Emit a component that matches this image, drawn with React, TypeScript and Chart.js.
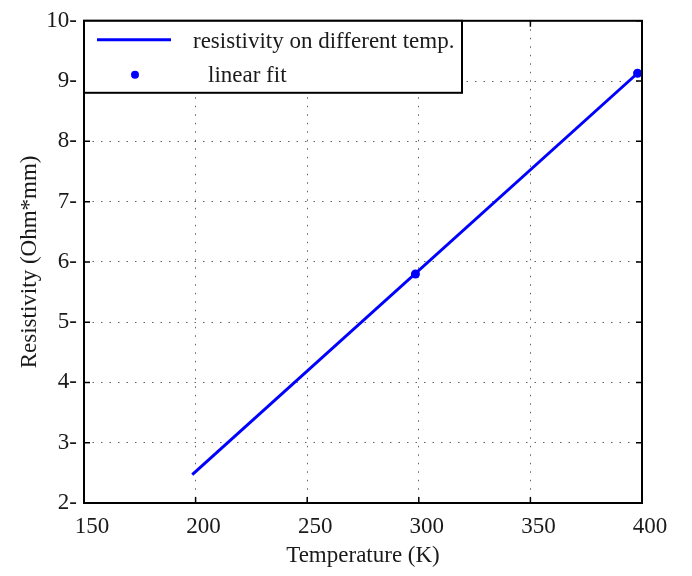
import React, { useEffect, useRef } from "react";
import { Chart, registerables } from "chart.js";
Chart.register(...registerables);

const lineTemps = [198.5, 398];
const lineResistivity = [2.47, 9.13];
const fitTemps = [298.5, 398];
const fitResistivity = [5.8, 9.13];
const xTickValues = [150, 200, 250, 300, 350, 400];
const yTickValues = [2, 3, 4, 5, 6, 7, 8, 9, 10];
const seriesLabels = ["resistivity on different temp.", "linear fit"];
const xTitle = "Temperature (K)";
const yTitle = "Resistivity (Ohm*mm)";

const FONT = '"Liberation Serif", "Times New Roman", serif';
const BLUE = "#0000ff";
const TEXT = "#1a1a1a";
const FS = 23;

const framePlugin = {
  id: "frame",
  afterDatasetsDraw(chart: any) {
    const { ctx, chartArea: a, scales } = chart;
    ctx.save();
    ctx.strokeStyle = "#000";
    ctx.lineWidth = 1.5;
    const tl = 6;
    ctx.beginPath();
    for (const v of xTickValues) {
      const x = scales.x.getPixelForValue(v);
      ctx.moveTo(x, a.bottom);
      ctx.lineTo(x, a.bottom - tl);
      ctx.moveTo(x, a.top);
      ctx.lineTo(x, a.top + tl);
    }
    for (const v of yTickValues) {
      const y = scales.y.getPixelForValue(v);
      ctx.moveTo(a.left, y);
      ctx.lineTo(a.left + tl, y);
      ctx.moveTo(a.right, y);
      ctx.lineTo(a.right - tl, y);
    }
    ctx.stroke();
    ctx.lineWidth = 2;
    ctx.strokeRect(a.left, a.top, a.right - a.left, a.bottom - a.top);
    ctx.restore();
  },
};

const legendPlugin = {
  id: "boxLegend",
  afterDraw(chart: any) {
    const { ctx, chartArea: a } = chart;
    const x0 = a.left;
    const y0 = a.top;
    const w = 378;
    const h = 72;
    ctx.save();
    ctx.fillStyle = "#fff";
    ctx.fillRect(x0, y0, w, h);
    ctx.strokeStyle = "#000";
    ctx.lineWidth = 2;
    ctx.strokeRect(x0, y0, w, h);
    ctx.strokeStyle = BLUE;
    ctx.lineWidth = 3;
    ctx.beginPath();
    ctx.moveTo(x0 + 13, y0 + 19);
    ctx.lineTo(x0 + 87, y0 + 19);
    ctx.stroke();
    ctx.fillStyle = BLUE;
    ctx.beginPath();
    ctx.arc(x0 + 51, y0 + 54, 4, 0, Math.PI * 2);
    ctx.fill();
    ctx.fillStyle = TEXT;
    ctx.font = `${FS}px ${FONT}`;
    ctx.textBaseline = "middle";
    ctx.textAlign = "left";
    ctx.fillText(seriesLabels[0], x0 + 109, y0 + 21);
    ctx.fillText(seriesLabels[1], x0 + 124, y0 + 55);
    ctx.restore();
  },
};

export default function App() {
  const ref = useRef<HTMLCanvasElement>(null);
  useEffect(() => {
    document.body.style.margin = "0";
    const chart = new Chart(ref.current!, {
      type: "scatter",
      data: {
        datasets: [
          {
            label: seriesLabels[0],
            data: lineTemps.map((t, i) => ({ x: t, y: lineResistivity[i] })),
            showLine: true,
            borderColor: BLUE,
            backgroundColor: BLUE,
            borderWidth: 3,
            pointRadius: 0,
          },
          {
            label: seriesLabels[1],
            data: fitTemps.map((t, i) => ({ x: t, y: fitResistivity[i] })),
            showLine: false,
            borderColor: BLUE,
            backgroundColor: BLUE,
            pointRadius: 4.5,
            pointBorderWidth: 0,
          },
        ],
      },
      options: {
        animation: false,
        responsive: false,
        layout: { padding: { top: 13, right: 50, left: 0, bottom: 0 } },
        plugins: { legend: { display: false }, tooltip: { enabled: false } },
        scales: {
          x: {
            type: "linear",
            min: 150,
            max: 400,
            afterBuildTicks: (s: any) => {
              s.ticks = xTickValues.map((v) => ({ value: v }));
            },
            afterFit: (s: any) => {
              s.height = 73;
            },
            grid: {
              drawTicks: false,
              color: (c: any) =>
                c.tick && (c.tick.value === 150 || c.tick.value === 400)
                  ? "rgba(0,0,0,0)"
                  : "rgba(60,60,60,0.8)",
              lineWidth: 1,
            },
            border: { display: false, dash: [1.5, 7] },
            ticks: {
              font: { family: FONT, size: FS },
              color: TEXT,
              padding: 10,
              labelOffset: 8,
              maxRotation: 0,
              autoSkip: false,
            },
            title: {
              display: true,
              text: xTitle,
              font: { family: FONT, size: FS },
              color: TEXT,
              padding: { top: 6, bottom: 6 },
            },
          },
          y: {
            type: "linear",
            min: 2,
            max: 10,
            afterBuildTicks: (s: any) => {
              s.ticks = yTickValues.map((v) => ({ value: v }));
            },
            afterFit: (s: any) => {
              s.width = 84;
            },
            grid: {
              drawTicks: false,
              color: (c: any) =>
                c.tick && (c.tick.value === 2 || c.tick.value === 10)
                  ? "rgba(0,0,0,0)"
                  : "rgba(60,60,60,0.8)",
              lineWidth: 1,
            },
            border: { display: false, dash: [1.5, 7] },
            ticks: {
              font: { family: FONT, size: FS },
              color: TEXT,
              padding: 7,
              autoSkip: false,
              callback: (v: any) => `${v}-`,
            },
            title: {
              display: true,
              text: yTitle,
              font: { family: FONT, size: FS },
              color: TEXT,
              padding: { top: 16, bottom: 4 },
            },
          },
        },
      },
      plugins: [framePlugin, legendPlugin],
    });
    return () => chart.destroy();
  }, []);
  return (
    <div style={{ position: "absolute", left: 0, top: 0, width: 692, height: 576, background: "#fff" }}>
      <canvas ref={ref} width={692} height={576} style={{ width: 692, height: 576 }} />
    </div>
  );
}
